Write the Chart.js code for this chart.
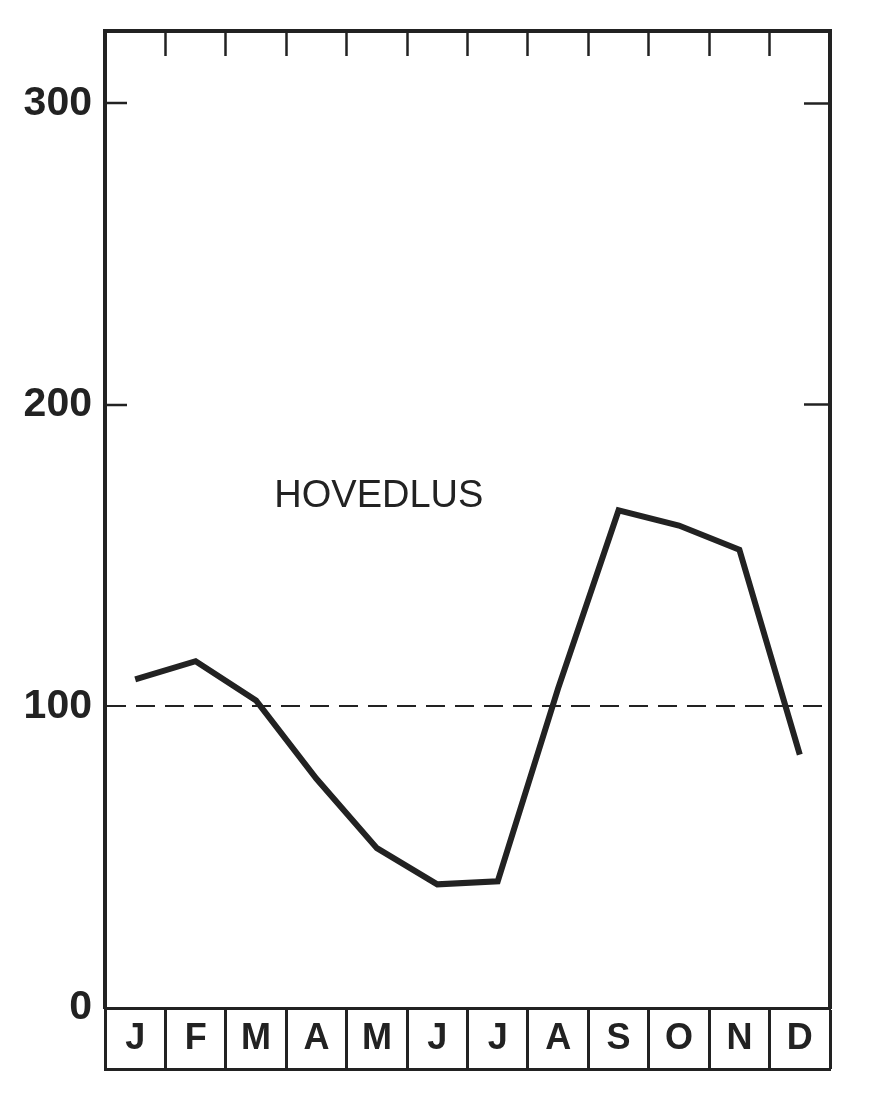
<!DOCTYPE html>
<html>
<head>
<meta charset="utf-8">
<script src="https://cdn.jsdelivr.net/npm/chart.js@4"></script>
<style>
  html, body { margin: 0; padding: 0; background: #ffffff; }
  #wrap { width: 869px; height: 1096px; position: relative; }
</style>
</head>
<body>
<div id="wrap"><canvas id="c"></canvas></div>
<script>
// ---- data ----
const months = ['J', 'F', 'M', 'A', 'M', 'J', 'J', 'A', 'S', 'O', 'N', 'D'];
const hovedlus = [109, 115, 102, 76, 53, 41, 42, 106, 165, 160, 152, 84];
const yTicks = [0, 100, 200, 300];
const yMax = 324;
const refValue = 100;
const seriesLabel = 'HOVEDLUS';
const labelAnchor = { monthIndex: 4, value: 169.5 };

const INK = '#222222';

const seriesLabelPlugin = {
  id: 'seriesLabel',
  afterDatasetsDraw(chart) {
    const { ctx } = chart;
    const xs = chart.scales.x, ys = chart.scales.y;
    ctx.save();
    ctx.fillStyle = INK;
    ctx.font = '38px "Liberation Sans", Arial, sans-serif';
    ctx.textAlign = 'center';
    ctx.textBaseline = 'middle';
    ctx.fillText(seriesLabel, xs.getPixelForValue(labelAnchor.monthIndex) + 2, ys.getPixelForValue(labelAnchor.value));
    ctx.restore();
  }
};

const isMarked = (ctx) => ctx.tick && (ctx.tick.value === 200 || ctx.tick.value === 300);
const noPad = (s) => { s.paddingTop = 0; s.paddingBottom = 0; s.paddingLeft = 0; s.paddingRight = 0; };

new Chart(document.getElementById('c'), {
  type: 'line',
  data: {
    labels: months,
    datasets: [{
      label: seriesLabel,
      data: hovedlus,
      borderColor: INK,
      borderWidth: 6,
      pointRadius: 0,
      tension: 0,
      fill: false,
      xAxisID: 'x',
      yAxisID: 'y'
    }]
  },
  options: {
    responsive: true,
    maintainAspectRatio: false,
    animation: false,
    layout: { padding: 0 },
    plugins: { legend: { display: false }, tooltip: { enabled: false } },
    scales: {
      x: {
        type: 'category',
        position: 'bottom',
        weight: 0,
        offset: true,
        afterFit: (s) => { s.height = 61; noPad(s); },
        border: { display: true, color: INK, width: 3 },
        grid: {
          offset: true,
          drawOnChartArea: false,
          drawTicks: true,
          tickLength: 61,
          tickWidth: 3,
          tickColor: INK,
          color: INK
        },
        ticks: {
          autoSkip: false,
          maxRotation: 0,
          minRotation: 0,
          padding: -52,
          color: INK,
          font: { family: '"Liberation Sans", Arial, sans-serif', size: 36, weight: 'bold' }
        }
      },
      xBase: {
        type: 'category',
        position: 'bottom',
        weight: 1,
        offset: true,
        afterFit: (s) => { s.height = 27; noPad(s); },
        border: { display: true, color: INK, width: 3 },
        grid: { display: false, drawTicks: false },
        ticks: { display: false }
      },
      xTop: {
        type: 'category',
        position: 'top',
        offset: true,
        afterFit: (s) => { s.height = 31; noPad(s); },
        border: { display: true, color: INK, width: 4 },
        grid: {
          offset: true,
          drawOnChartArea: false,
          drawTicks: true,
          tickLength: -25,
          tickWidth: 2.5,
          tickColor: INK
        },
        ticks: { display: false }
      },
      y: {
        type: 'linear',
        position: 'left',
        min: 0,
        max: yMax,
        afterFit: (s) => { s.width = 105; noPad(s); },
        afterBuildTicks: (s) => { s.ticks = yTicks.map(v => ({ value: v })); },
        border: {
          display: true,
          color: INK,
          width: 4,
          dash: (ctx) => (ctx.tick && ctx.tick.value === refValue) ? [19, 10] : []
        },
        grid: {
          drawOnChartArea: true,
          drawTicks: true,
          tickLength: -22,
          tickWidth: 2.5,
          lineWidth: 2,
          color: (ctx) => (ctx.tick && ctx.tick.value === refValue) ? INK : 'rgba(0,0,0,0)',
          tickColor: (ctx) => isMarked(ctx) ? INK : 'rgba(0,0,0,0)'
        },
        ticks: {
          includeBounds: false,
          padding: 35,
          color: INK,
          font: { family: '"Liberation Sans", Arial, sans-serif', size: 41, weight: 'bold' },
          callback: (v) => String(v)
        }
      },
      yRight: {
        type: 'linear',
        position: 'right',
        min: 0,
        max: yMax,
        afterFit: (s) => { s.width = 39; noPad(s); },
        afterBuildTicks: (s) => { s.ticks = yTicks.map(v => ({ value: v })); },
        border: { display: true, color: INK, width: 4 },
        grid: {
          drawOnChartArea: false,
          drawTicks: true,
          tickLength: -26,
          tickWidth: 2.5,
          tickColor: (ctx) => isMarked(ctx) ? INK : 'rgba(0,0,0,0)'
        },
        ticks: { display: false }
      }
    }
  },
  plugins: [seriesLabelPlugin]
});
</script>
</body>
</html>
